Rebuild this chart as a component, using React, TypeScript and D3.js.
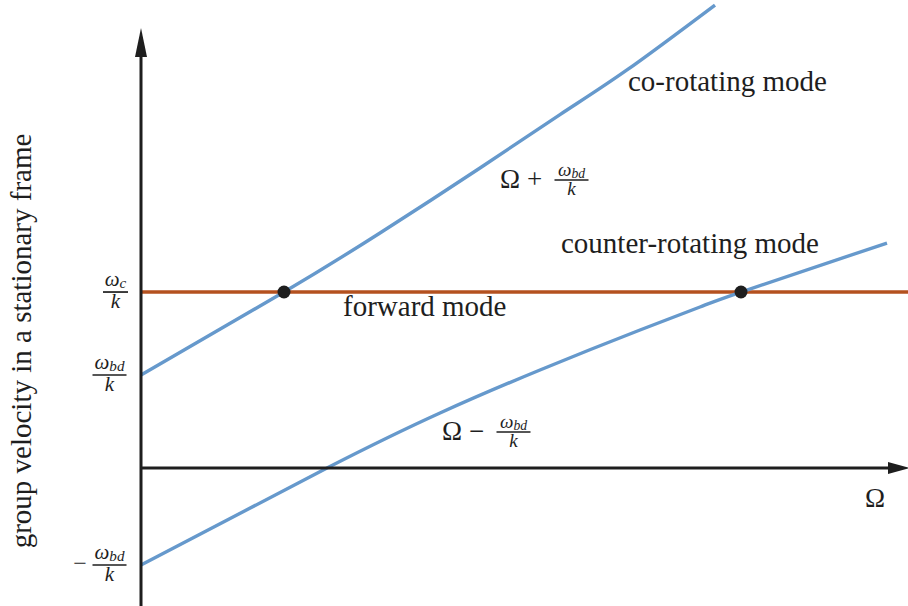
import React from "react";
import * as d3 from "d3";

const W = 908;
const H = 606;

// Group velocity curves (Ω in arbitrary units, velocity in units of ω_bd/k)
const coOmega = [0, 1.43, 2.39, 3.39, 4.19, 4.86, 5.74];
const coVelocity = [1.0, 1.892, 2.527, 3.226, 3.8, 4.28, 4.978];
const counterOmega = [0, 1.86, 2.99, 3.99, 4.99, 5.59, 6.0, 7.46];
const counterVelocity = [-1.043, 0, 0.591, 1.054, 1.484, 1.731, 1.892, 2.419];
const forwardOmega = [0, 7.67];
const forwardVelocity = [1.892, 1.892];
const crossingOmega = [1.43, 6.0];

// Tick labels on the velocity axis
const yTickValues = [1.892, 1.0, -1.043];
const yTickSubs = ["c", "bd", "bd"];
const yTickSigns = ["", "", "−"];

const BLUE = "#6699cc";
const BROWN = "#b4511f";
const INK = "#1e1e1e";
const FONT = "Liberation Serif, DejaVu Serif, serif";

type FracProps = { cx: number; cy: number; w: number; sub: string; size: number; num: number; den: number };

function Frac({ cx, cy, w, sub, size, num, den }: FracProps) {
  return (
    <g>
      <text x={cx} y={cy - num} textAnchor="middle" fontSize={size} fontStyle="italic">
        ω
        <tspan fontSize={size * 0.72} dy={size * 0.1}>{sub}</tspan>
      </text>
      <line x1={cx - w / 2} x2={cx + w / 2} y1={cy} y2={cy} stroke={INK} strokeWidth={1.7} />
      <text x={cx} y={cy + den} textAnchor="middle" fontSize={size} fontStyle="italic">
        k
      </text>
    </g>
  );
}

export default function App() {
  const x = d3.scaleLinear().domain([0, 7.67]).range([141, 908]);
  const y = d3.scaleLinear().domain([-1.484, 5.032]).range([606, 0]);

  const line = d3
    .line<[number, number]>()
    .x((d) => x(d[0]))
    .y((d) => y(d[1]))
    .curve(d3.curveNatural);

  const co = coOmega.map((o, i) => [o, coVelocity[i]] as [number, number]);
  const counter = counterOmega.map((o, i) => [o, counterVelocity[i]] as [number, number]);
  const forward = forwardOmega.map((o, i) => [o, forwardVelocity[i]] as [number, number]);

  const x0 = x(0);
  const y0 = y(0);

  return (
    <svg
      width={W}
      height={H}
      style={{ position: "absolute", left: 0, top: 0, background: "#fff", fontFamily: FONT }}
      fill={INK}
    >
      {/* forward mode */}
      <path d={line(forward) ?? ""} fill="none" stroke={BROWN} strokeWidth={3.4} />
      {/* co- and counter-rotating modes */}
      <path d={line(co) ?? ""} fill="none" stroke={BLUE} strokeWidth={3.4} />
      <path d={line(counter) ?? ""} fill="none" stroke={BLUE} strokeWidth={3.4} />

      {/* axes */}
      <line x1={x0} x2={x0} y1={H} y2={50} stroke={INK} strokeWidth={3} />
      <path d={`M${x0},28 L${x0 + 6},57 L${x0 - 6},57 Z`} fill={INK} />
      <line x1={x0} x2={890} y1={y0} y2={y0} stroke={INK} strokeWidth={3} />
      <path d={`M910,${y0} L888,${y0 - 6} L888,${y0 + 6} Z`} fill={INK} />

      {/* crossing points with the forward mode */}
      {crossingOmega.map((o, i) => (
        <circle key={i} cx={x(o)} cy={y(forwardVelocity[0])} r={6.5} fill={INK} />
      ))}

      {/* velocity axis tick labels */}
      {yTickValues.map((v, i) => (
        <g key={i}>
          {yTickSigns[i] && (
            <text x={80} y={y(v) + 6} textAnchor="middle" fontSize={24}>
              {yTickSigns[i]}
            </text>
          )}
          <Frac
            cx={yTickSubs[i] === "c" ? 115.5 : 109.5}
            cy={y(v)}
            w={yTickSubs[i] === "c" ? 25 : 34}
            sub={yTickSubs[i]}
            size={21}
            num={6}
            den={16}
          />
        </g>
      ))}

      {/* curve annotations */}
      <text x={628} y={91} fontSize={29}>co-rotating mode</text>
      <text x={561} y={253} fontSize={29}>counter-rotating mode</text>
      <text x={343} y={316} fontSize={29}>forward mode</text>

      <text x={500} y={188} fontSize={27}>Ω</text>
      <text x={527} y={188} fontSize={27}>+</text>
      <Frac cx={571.5} cy={180} w={34} sub="bd" size={19} num={4} den={15} />

      <text x={442} y={440} fontSize={27}>Ω</text>
      <text x={469} y={440} fontSize={27}>−</text>
      <Frac cx={513.5} cy={432} w={34} sub="bd" size={19} num={4} den={15} />

      {/* axis titles */}
      <text x={865} y={507} fontSize={27}>Ω</text>
      <text transform={`translate(31,${341}) rotate(-90)`} textAnchor="middle" fontSize={29}>
        group velocity in a stationary frame
      </text>
    </svg>
  );
}
